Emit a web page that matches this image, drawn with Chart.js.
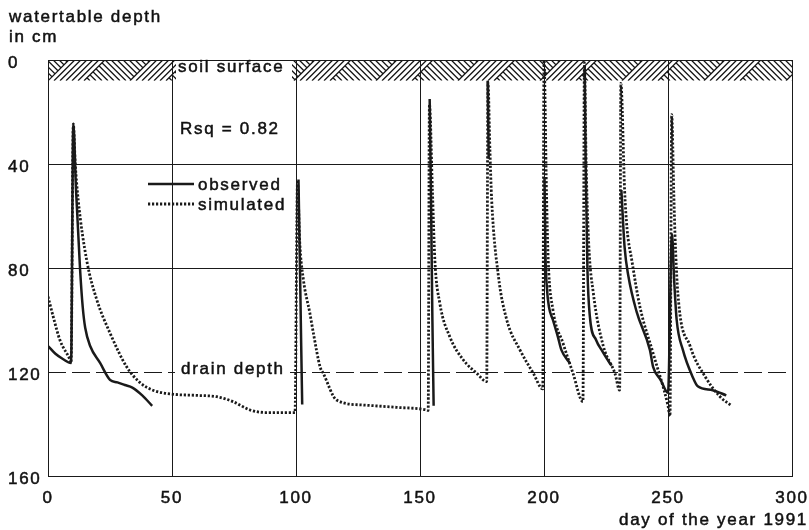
<!DOCTYPE html>
<html><head><meta charset="utf-8">
<script src="https://cdn.jsdelivr.net/npm/chart.js@4.4.1/dist/chart.umd.min.js"></script>
<style>html,body{margin:0;padding:0;background:#fff}#wrap{width:809px;height:530px;position:relative}</style>
</head><body><div id="wrap"><canvas id="c"></canvas></div>
<script>
// ---- data ----
const xTicks = [0, 50, 100, 150, 200, 250, 300];
const yTicks = [0, 40, 80, 120, 160];
const drainDepth = 120;   // cm
const surfaceBand = 8;    // cm, hatched soil-surface band

// observed water table depth (cm); null = no observation
const obsDay   = [0, 3, 6, 9.3, 10.2, 11.3, 12.9, 14, 15, 17, 21, 25, 28, 31, 34, 38, 42,
                  70,
                  101, 101.6, 102.1, 102.5,
                  130,
                  153.9, 154.4, 155, 155.5,
                  166,
                  177.3, 177.7,
                  190,
                  200.2, 200.6, 201.2, 202, 203.6, 205.6, 207, 210.5,
                  213,
                  216.4, 216.8, 217.5, 218.5, 221, 223.5, 226.6, 227.3,
                  229,
                  231.2, 232.5, 234, 237.4, 242.7, 244, 247, 250, 251.6, 252.5, 253.5, 256, 260, 262, 268, 273.5];
const obsDepth = [110, 113, 115, 116.5, 24.6, 50, 80, 95, 103, 110, 116.5, 123, 124, 125, 126, 129, 133,
                  null,
                  46, 80, 110, 132.5,
                  null,
                  15, 50, 100, 133,
                  null,
                  8, 38,
                  null,
                  45, 75, 88, 95, 100, 106.5, 111.5, 116.7,
                  null,
                  2, 40, 80, 98.7, 107.7, 112, 116.7, 117.5,
                  null,
                  50, 72, 83, 97, 111.5, 118, 123, 128, 67, 85, 100, 111.5, 122, 125.5, 127, 129];

// simulated water table depth (cm)
const simDay   = [0, 2.1, 4.8, 8.9, 9.3, 10.2, 11, 12.2, 15.6, 19.6, 25, 31.7, 37, 42.3, 50, 60, 68, 74.6, 81.5, 88, 99.6,
                  100.6, 101.5, 103, 105.6, 107, 109.7, 111, 116.4, 127, 140.6, 152.7, 153.3,
                  153.8, 155, 156, 158, 162, 167.5, 172.9, 176.9,
                  177.4, 178.2, 178.9, 181.6, 185, 190.3, 195.7, 199.5,
                  200, 201, 201.7, 203.6, 207.7, 211.7, 215.7,
                  216.3, 217, 218, 219.9, 223.9, 228.6, 230.5,
                  231, 232.5, 233.5, 235.4, 238.7, 244, 250, 250.8,
                  251.5, 252.3, 252.8, 254, 258.9, 265, 271, 275.7];
const simDepth = [91, 98.7, 107.7, 115.4, 116.5, 24.6, 40, 54, 77, 92, 105, 118, 124, 127, 128.5, 129, 129.5, 131.4, 134.6, 135.6, 135.6,
                  47, 70, 84.6, 97.4, 105, 118, 120.5, 130.8, 132.7, 133.6, 134.6, 134.8,
                  17, 50, 77, 93.6, 106.4, 115.4, 120.5, 123.7,
                  8.5, 35, 53.8, 83, 100, 111.5, 120.5, 126.5,
                  0, 51, 77, 96, 109, 120.5, 131.4,
                  1, 40, 70, 89.7, 110, 120.5, 127,
                  9, 50, 65, 77, 95, 112.8, 133, 137,
                  21, 50, 66.6, 90, 110, 121.8, 129.5, 133];

// ---- chart ----
const FONT = '"Liberation Sans", Arial, Helvetica, sans-serif';
Chart.defaults.font.family = FONT;
Chart.defaults.font.size = 17;
Chart.defaults.color = '#111';

const INK = '#1a1a1a';
const SPACING = '1.7px';

const decor = {
  id: 'decor',
  beforeDraw(chart) { chart.ctx.letterSpacing = SPACING; },
  beforeDatasetsDraw(chart) {
    const {ctx, chartArea: a, scales: {x, y}} = chart;
    // drain depth dashed line
    ctx.save();
    ctx.strokeStyle = INK; ctx.lineWidth = 1; ctx.setLineDash([18, 6]);
    const yd = Math.round(y.getPixelForValue(drainDepth)) + 0.5;
    ctx.beginPath(); ctx.moveTo(a.left, yd); ctx.lineTo(a.right, yd); ctx.stroke();
    ctx.restore();
    // soil surface hatch
    const top = y.getPixelForValue(0), bot = y.getPixelForValue(surfaceBand);
    const h = bot - top;
    ctx.save();
    ctx.beginPath(); ctx.rect(a.left, top, a.right - a.left, h); ctx.clip();
    ctx.strokeStyle = INK; ctx.lineWidth = 1.3;
    const P = 82, A = 36, sp = 6;
    for (let x0 = a.left - 2 * P; x0 < a.right + P; x0 += P) {
      ctx.beginPath();
      for (let k = 0; k <= A; k += sp) { ctx.moveTo(x0 + k, bot); ctx.lineTo(x0 + k + h, top); }
      ctx.stroke();
      ctx.save();
      ctx.beginPath();
      ctx.moveTo(x0 + A, bot); ctx.lineTo(x0 + A + h, top); ctx.lineTo(x0 + P + h, top); ctx.lineTo(x0 + P, bot); ctx.closePath();
      ctx.clip();
      ctx.beginPath();
      for (let xs = x0 + A - h; xs < x0 + P + h; xs += sp) { ctx.moveTo(xs, top); ctx.lineTo(xs + h, bot); }
      ctx.stroke();
      ctx.restore();
    }
    ctx.restore();
    // white boxes behind labels that sit on lines
    ctx.save();
    ctx.fillStyle = '#fff';
    ctx.fillRect(176, 61, 116, 20);
    ctx.fillRect(175, 366, 115, 10);
    ctx.restore();
  },
  afterDatasetsDraw(chart) {
    const {ctx} = chart;
    ctx.save();
    ctx.letterSpacing = SPACING;
    ctx.fillStyle = '#111';
    ctx.strokeStyle = '#111';
    ctx.lineWidth = 0.5;
    ctx.font = '17px ' + FONT;
    ctx.textBaseline = 'alphabetic';
    const txt = (s, x, y) => { ctx.fillText(s, x, y); ctx.strokeText(s, x, y); };
    ctx.textAlign = 'left';
    txt('watertable depth', 9, 22);
    txt('in cm', 9, 42);
    txt('soil surface', 178, 72);
    txt('Rsq = 0.82', 180, 134);
    txt('observed', 198, 190);
    txt('simulated', 198, 210);
    txt('drain depth', 181, 374);
    ctx.textAlign = 'right';
    txt('day of the year 1991', 808, 525);
    // legend keys
    ctx.strokeStyle = INK;
    ctx.lineWidth = 2.5;
    ctx.beginPath(); ctx.moveTo(148, 184); ctx.lineTo(194, 184); ctx.stroke();
    ctx.lineWidth = 2.8; ctx.setLineDash([2.2, 1.8]);
    ctx.beginPath(); ctx.moveTo(148, 204); ctx.lineTo(194, 204); ctx.stroke();
    ctx.restore();
  }
};

const toPts = (xs, ys) => xs.map((d, i) => ({x: d, y: ys[i]}));

new Chart(document.getElementById('c'), {
  type: 'line',
  data: {
    datasets: [
      { label: 'observed', data: toPts(obsDay, obsDepth), borderColor: INK, borderWidth: 2.5,
        pointRadius: 0, cubicInterpolationMode: 'monotone', spanGaps: false, fill: false },
      { label: 'simulated', data: toPts(simDay, simDepth), borderColor: INK, borderWidth: 2.8,
        borderDash: [2.2, 1.8], pointRadius: 0, cubicInterpolationMode: 'monotone', spanGaps: false, fill: false }
    ]
  },
  options: {
    responsive: true, maintainAspectRatio: false, animation: false,
    layout: { padding: { left: 8, right: 17, top: 60, bottom: 0 } },
    plugins: { legend: { display: false }, tooltip: { enabled: false } },
    scales: {
      x: {
        type: 'linear', min: 0, max: 300,
        afterBuildTicks: s => { s.ticks = xTicks.map(v => ({value: v})); },
        afterFit: s => { s.height = 54; s.paddingLeft = 0; s.paddingRight = 0; },
        grid: { color: INK, lineWidth: 1, drawTicks: false },
        border: { display: true, color: INK, width: 1 },
        ticks: { padding: 12, color: '#111', maxRotation: 0, autoSkip: false,
                 textStrokeColor: '#111', textStrokeWidth: 0.5 }
      },
      y: {
        type: 'linear', reverse: true, min: 0, max: 160,
        afterBuildTicks: s => { s.ticks = yTicks.map(v => ({value: v})); },
        afterFit: s => { s.width = 40; s.paddingTop = 0; s.paddingBottom = 0; },
        grid: { color: c => (c.tick && c.tick.value === drainDepth) ? 'rgba(0,0,0,0)' : INK, lineWidth: 1, drawTicks: false },
        border: { display: true, color: INK, width: 1 },
        ticks: { crossAlign: 'far', padding: 0, labelOffset: 3, color: '#111',
                 textStrokeColor: '#111', textStrokeWidth: 0.5 }
      }
    }
  },
  plugins: [decor]
});
</script>
</body></html>
